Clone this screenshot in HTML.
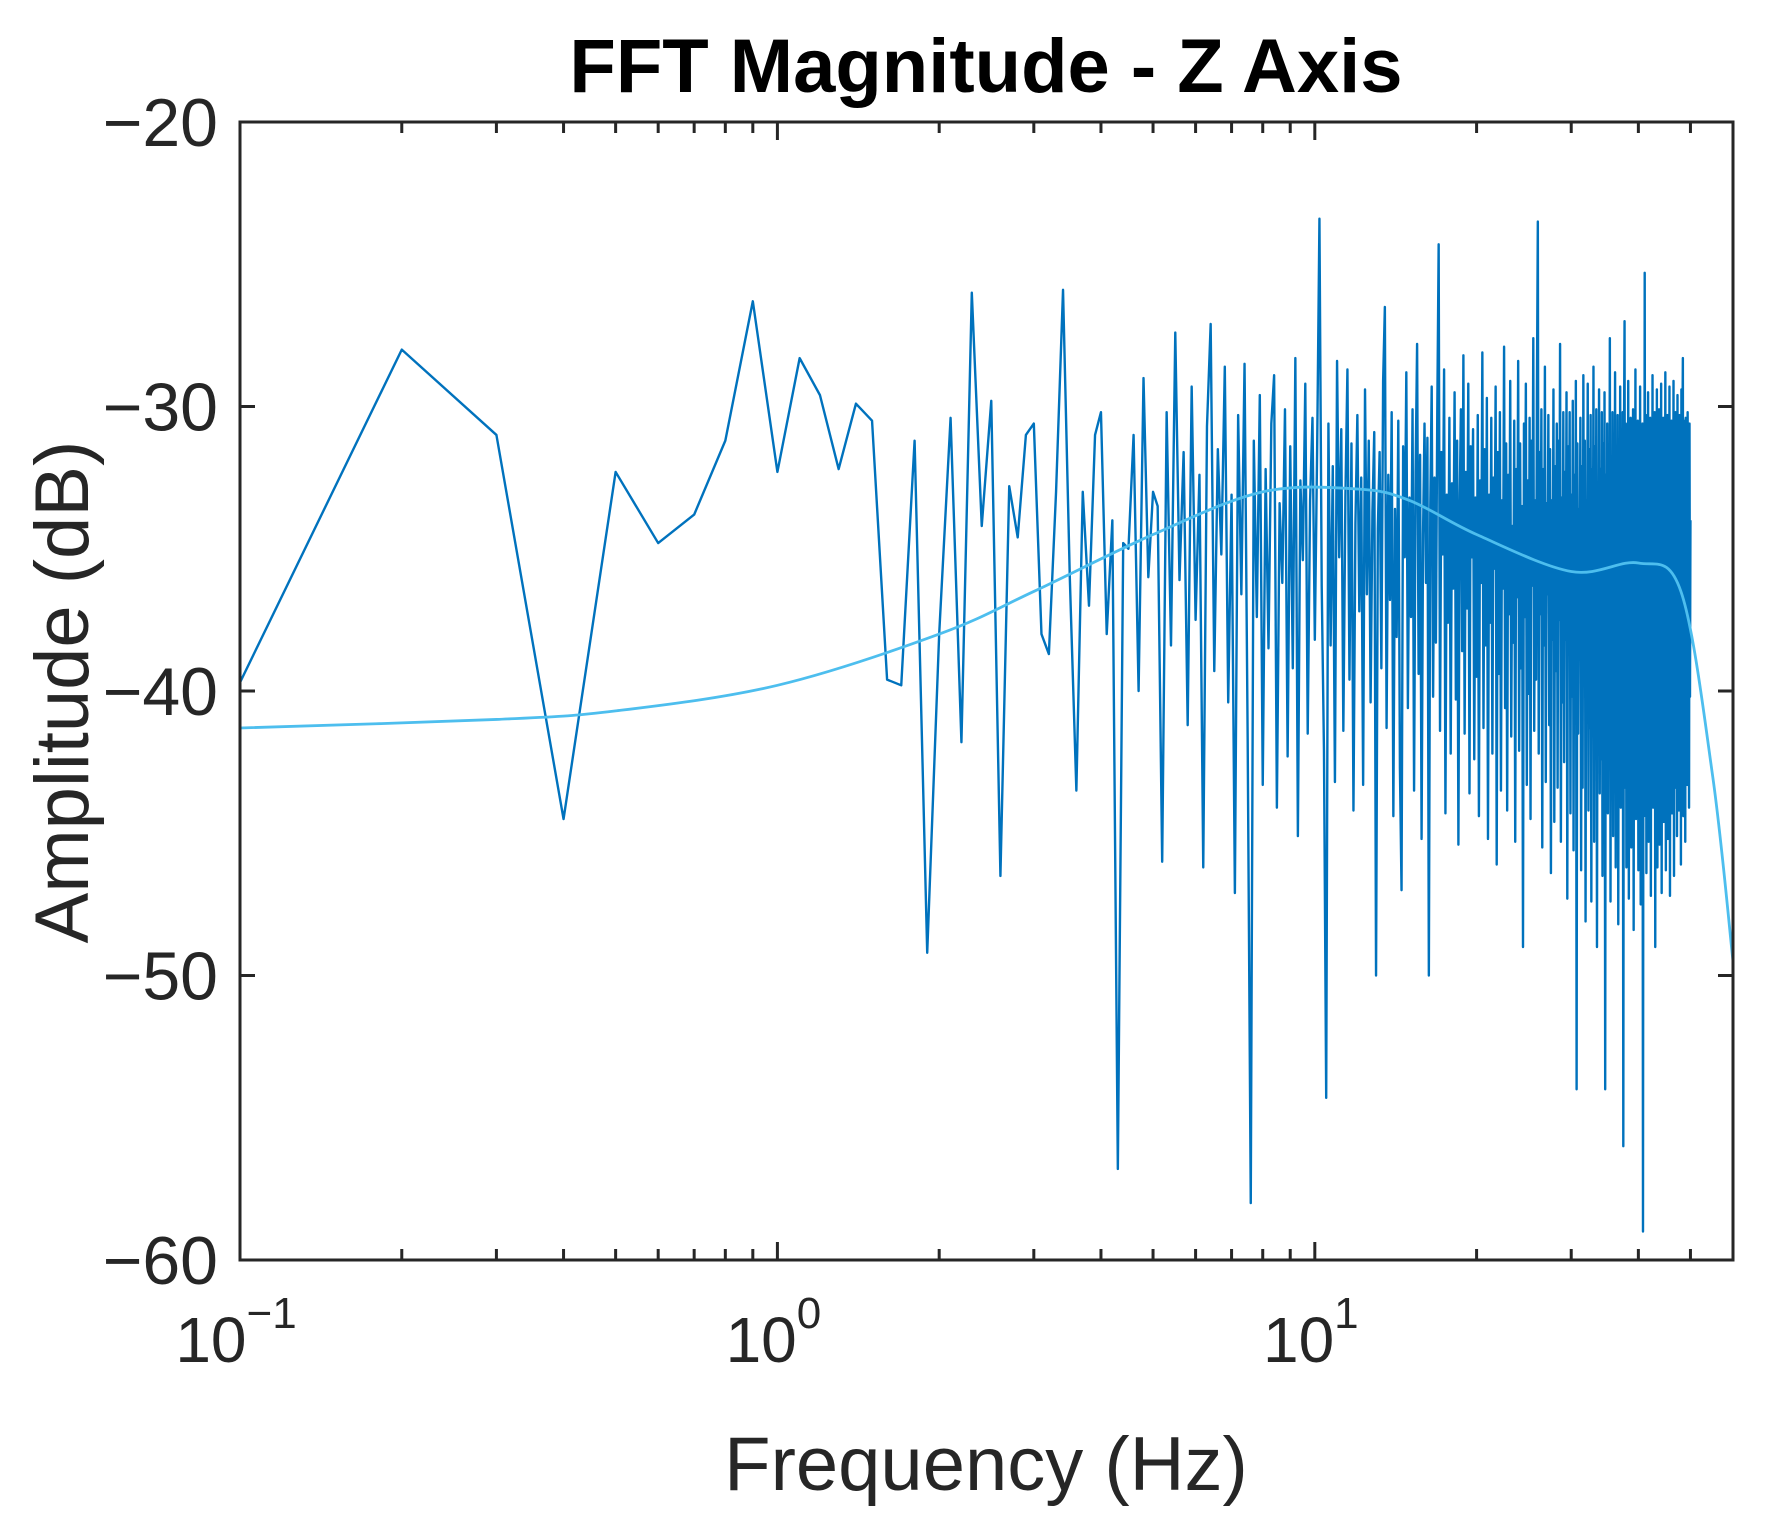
<!DOCTYPE html>
<html><head><meta charset="utf-8"><style>
html,body{margin:0;padding:0;background:#fff;}
svg{display:block;font-family:"Liberation Sans",Arial,sans-serif;}
</style></head><body>
<svg id="chart" width="1770" height="1532" viewBox="0 0 1770 1532" xmlns="http://www.w3.org/2000/svg">
<rect x="0" y="0" width="1770" height="1532" fill="#fff"/>
<text x="986" y="92" text-anchor="middle" font-size="76" font-weight="bold" fill="#000">FFT Magnitude - Z Axis</text>
<g id="plot"></g>
<text x="986" y="1490" text-anchor="middle" font-size="76" fill="#262626">Frequency (Hz)</text>
<text transform="translate(88,692) rotate(-90)" text-anchor="middle" font-size="76" fill="#262626">Amplitude (dB)</text>
</svg>
<script>
const fftStep = 0.1;
const fftDb = [
-39.7,-28,-31,-44.5,-32.3,-34.8,-33.8,-31.2,-26.3,-32.3,
-28.3,-29.6,-32.2,-29.9,-30.5,-39.6,-39.8,-31.2,-49.2,-38,
-30.4,-41.8,-26,-34.2,-29.8,-46.5,-32.8,-34.6,-31,-30.6,
-38,-38.7,-33,-25.9,-36,-43.5,-33,-37,-31,-30.2,
-38,-34,-56.8,-34.8,-35,-31,-40,-29,-36,-33,
-33.5,-46,-30.2,-38.4,-27.4,-36.1,-31.6,-41.2,-29.3,-37.5,
-32.4,-46.2,-30.7,-27.1,-39.3,-31.5,-35.2,-28.6,-40.4,-33.1,
-47.1,-30.3,-36.6,-28.5,-41.7,-58,-31.2,-37.4,-29.6,-43.3,
-32.2,-38.5,-30.6,-28.9,-44.1,-33.4,-36.2,-30.1,-42.3,-31.4,
-39.2,-28.3,-45.1,-32.6,-35.4,-29.2,-41.5,-33.3,-30.4,-38.2,
-31.5,-23.4,-36.3,-42.1,-54.3,-30.6,-38.4,-32.1,-43.2,-28.4,
-35.3,-30.8,-41.4,-33.2,-28.7,-39.6,-31.3,-44.2,-34.1,-30.3,
-37.2,-32.5,-43.3,-29.4,-36.6,-31.2,-40.4,-33.7,-30.9,-50,
-34.3,-31.6,-39.2,-29.1,-26.5,-41.3,-32.4,-36.8,-30.2,-44.4,
-33.6,-38.1,-30.5,-42.7,-47,-31.4,-35.3,-28.8,-40.6,-33.2,
-37.4,-30.1,-43.5,-32.3,-27.8,-39.4,-31.7,-45.2,-34.5,-30.6,
-36.2,-31.1,-50,-33.6,-29.3,-40.2,-32.5,-38.3,-30.2,-24.3,
-41.4,-31.6,-35.2,-28.7,-44.3,-33.1,-37.6,-30.4,-42.2,-32.7,
-36.4,-29.5,-40.3,-31.2,-45.4,-33.5,-30.1,-38.6,-28.2,-41.5,
-32.3,-37.1,-29.2,-43.6,-31.4,-35.3,-30.8,-42.4,-33.2,-39.5,
-30.3,-44.4,-32.6,-36.2,-28.1,-41.3,-31.5,-38.4,-29.7,-45.2,
-33.1,-37.6,-30.4,-42.2,-32.5,-35.7,-29.3,-46.1,-31.6,-39.4,
-30.2,-43.5,-33.3,-36.4,-27.9,-40.6,-31.3,-44.2,-32.4,-37.3,
-29.1,-41.6,-34.2,-38.3,-30.5,-45.3,-32.2,-36.7,-28.4,-42.1,
-31.3,-39.2,-33.5,-49,-30.6,-37.4,-29.2,-43.3,-32.6,-40.1,
-30.4,-44.5,-31.2,-36.3,-27.6,-41.4,-33.3,-39.6,-29.4,-23.5,
-42.2,-31.6,-37.3,-30.1,-45.5,-32.2,-38.4,-28.6,-43.2,-33.4,
-36.6,-30.3,-41.2,-31.5,-46.4,-33.3,-38.2,-29.4,-44.6,-32.1,
-39.3,-30.6,-43.4,-31.2,-37.5,-27.8,-45.3,-33.2,-40.4,-30.2,
-42.5,-32.3,-38.2,-29.5,-47.3,-31.4,-36.5,-30.2,-44.3,-33.1,
-40.2,-29.8,-45.6,-32.4,-38.3,-29.1,-54,-31.3,-41.5,-33.6,
-37.2,-30.4,-46.3,-32.1,-43.4,-28.9,-39.6,-31.2,-48.1,-33.3,
-36.4,-29.2,-44.2,-31.5,-41.3,-30.3,-47.4,-32.2,-38.5,-28.6,
-45.3,-31.4,-40.2,-30.1,-49,-33.5,-37.3,-29.4,-43.6,-32.2,
-42.4,-30.2,-46.5,-31.3,-38.1,-29.5,-54,-32.4,-41.2,-30.6,
-44.3,-31.5,-39.2,-27.6,-47.4,-32.3,-42.5,-30.2,-45.1,-31.4,
-38.3,-28.8,-46.2,-33.1,-41.4,-30.3,-48.2,-31.6,-40.5,-29.3,
-44.1,-32.4,-39.3,-30.2,-56,-31.5,-27,-43.4,-30.6,-46.2,
-33.2,-40.4,-29.1,-47.3,-31.2,-42.6,-30.4,-45.5,-32.3,-38.2,
-30.1,-48.4,-31.3,-41.2,-28.7,-44.5,-32.2,-39.4,-30.5,-46.3,
-31.4,-43.2,-29.3,-47.5,-33.1,-40.2,-30.6,-59,-31.2,-44.4,
-25.3,-42.2,-30.3,-46.4,-31.6,-39.2,-29.5,-45.3,-32.1,-41.6,
-30.4,-47.2,-31.3,-40.5,-28.9,-44.1,-33.3,-38.4,-30.2,-49,
-31.2,-43.5,-29.4,-46.2,-32.3,-40.6,-30.1,-45.4,-31.5,-39.3,
-29.2,-47.1,-32.5,-41.3,-30.4,-44.6,-31.2,-38.5,-28.8,-46.3,
-32.2,-42.4,-30.3,-45.2,-31.6,-39.4,-29.3,-47.2,-33.2,-41.1,
-30.5,-44.3,-31.2,-40.4,-29.1,-46.5,-32.3,-38.2,-30.2,-43.4,
-31.3,-45.1,-29.6,-41.3,-32.4,-44.2,-30.3,-39.5,-31.1,-46.1,
-29.4,-42.3,-31.2,-28.3,-44.4,-30.5,-40.2,-32.1,-45.3,-30.4,
-41.2,-31.5,-43.3,-30.2,-39.4,-32.3,-44.1,-30.6,-40.2,-34
];
const trendFreq = [0.1,0.3,0.5,1,2,3,5,8,12,15,20,30,40,48,55,60];
const trendDb = [-41.3,-41.0,-40.7,-39.8,-38,-36.5,-34.5,-33,-32.9,-33.3,-34.5,-35.8,-35.5,-36.5,-43,-49.5];
const yTicks = [-20,-30,-40,-50,-60];
const xDecades = [-1,0,1];

const L=240,R=1733,T=122,B=1260;
const xMin=Math.log10(0.1), xMax=Math.log10(60);
function xs(f){return L+(Math.log10(f)-xMin)/(xMax-xMin)*(R-L);}
function ys(v){return T+(-20-v)/(40)*(B-T);}
const NS="http://www.w3.org/2000/svg";
const plot=document.getElementById('plot');
function mk(tag,attrs){const e=document.createElementNS(NS,tag);for(const k in attrs)e.setAttribute(k,attrs[k]);return e;}

const defs=mk('defs',{});
const cp=mk('clipPath',{id:'clip'});
cp.appendChild(mk('rect',{x:L,y:T,width:R-L,height:B-T}));
defs.appendChild(cp);
plot.appendChild(defs);

let d='';
fftDb.forEach((v,i)=>{const f=(i+1)*fftStep;d+=(i?'L':'M')+xs(f).toFixed(2)+' '+ys(v).toFixed(2);});
const main=mk('path',{d:d,fill:'none',stroke:'#0072BD','stroke-width':'2.4','stroke-linejoin':'round','clip-path':'url(#clip)'});


plot.appendChild(main);

const pts=trendFreq.map((f,i)=>[xs(f),ys(trendDb[i])]);
let td='M'+pts[0][0]+' '+pts[0][1];
for(let i=0;i<pts.length-1;i++){
 const p0=pts[Math.max(0,i-1)],p1=pts[i],p2=pts[i+1],p3=pts[Math.min(pts.length-1,i+2)];
 const c1=[p1[0]+(p2[0]-p0[0])/6,p1[1]+(p2[1]-p0[1])/6];
 const c2=[p2[0]-(p3[0]-p1[0])/6,p2[1]-(p3[1]-p1[1])/6];
 td+='C'+c1[0]+' '+c1[1]+' '+c2[0]+' '+c2[1]+' '+p2[0]+' '+p2[1];
}
const trend=mk('path',{d:td,fill:'none',stroke:'#4DBEEE','stroke-width':'2.8','clip-path':'url(#clip)'});


plot.appendChild(trend);

const box=mk('rect',{x:L,y:T,width:R-L,height:B-T,fill:'none',stroke:'#262626','stroke-width':'3'});


plot.appendChild(box);

yTicks.forEach(v=>{
 const y=ys(v);
 const t1=mk('line',{x1:L,x2:L+15,y1:y,y2:y,stroke:'#262626','stroke-width':'3'});
 
 
 plot.appendChild(t1);
 const t2=mk('line',{x1:R-15,x2:R,y1:y,y2:y,stroke:'#262626','stroke-width':'3'});
 
 
 plot.appendChild(t2);
 const lb=mk('text',{x:L-22,y:y+24,'text-anchor':'end','font-size':'68',fill:'#262626'});
 lb.textContent='\u2212'+Math.abs(v);
 
 
 plot.appendChild(lb);
});

for(let e=-1;e<=1;e++){
 for(let m=1;m<=9;m++){
  const f=m*Math.pow(10,e); if(f>60)break;
  const x=xs(f), len=m===1?18:11;
  const a=mk('line',{x1:x,x2:x,y1:B,y2:B-len,stroke:'#262626','stroke-width':'3'});
  
  
  plot.appendChild(a);
  const b=mk('line',{x1:x,x2:x,y1:T,y2:T+len,stroke:'#262626','stroke-width':'3'});
  
  
  plot.appendChild(b);
 }
}
xDecades.forEach(e=>{
 const x=xs(Math.pow(10,e));
 const lb=mk('text',{x:x-4,y:1362,'text-anchor':'middle','font-size':'64',fill:'#262626'});
 
 
 const base=mk('tspan',{});
 base.textContent='10';
 const sup=mk('tspan',{dy:'-34','font-size':'44'});
 sup.textContent=e<0?'\u2212'+Math.abs(e):String(e);
 lb.appendChild(base);
 lb.appendChild(sup);
 plot.appendChild(lb);
});
</script>
</body></html>
